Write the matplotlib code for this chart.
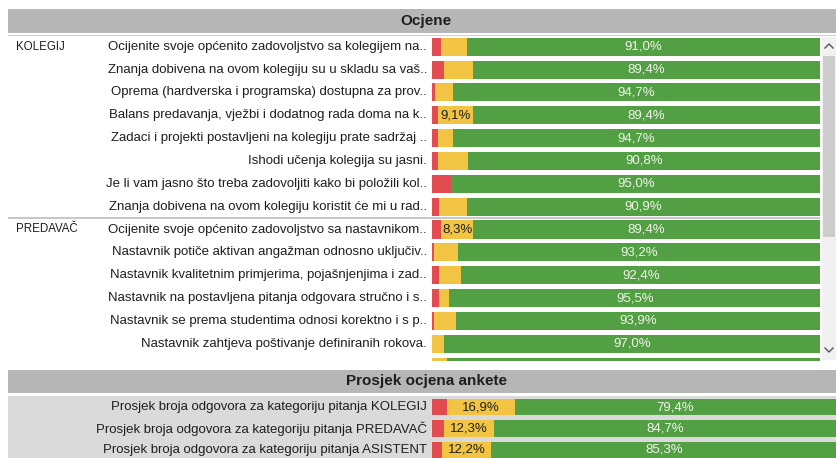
import matplotlib
matplotlib.use("Agg")
import matplotlib.pyplot as plt
from matplotlib.patches import Rectangle
from matplotlib.lines import Line2D
import numpy as np

plt.rcParams['font.family'] = ['Liberation Sans', 'DejaVu Sans']

# ---------------- data ----------------
title_top = "Ocjene"
title_bottom = "Prosjek ocjena ankete"

groups = ["KOLEGIJ", "PREDAVAČ"]
group_start = [0, 8]

questions = [
    "Ocijenite svoje općenito zadovoljstvo sa kolegijem na..",
    "Znanja dobivena na ovom kolegiju su u skladu sa vaš..",
    "Oprema (hardverska i programska) dostupna za prov..",
    "Balans predavanja, vježbi i dodatnog rada doma na k..",
    "Zadaci i projekti postavljeni na kolegiju prate sadržaj ..",
    "Ishodi učenja kolegija su jasni.",
    "Je li vam jasno što treba zadovoljiti kako bi položili kol..",
    "Znanja dobivena na ovom kolegiju koristit će mi u rad..",
    "Ocijenite svoje općenito zadovoljstvo sa nastavnikom..",
    "Nastavnik potiče aktivan angažman odnosno uključiv..",
    "Nastavnik kvalitetnim primjerima, pojašnjenjima i zad..",
    "Nastavnik na postavljena pitanja odgovara stručno i s..",
    "Nastavnik se prema studentima odnosi korektno i s p..",
    "Nastavnik zahtjeva poštivanje definiranih rokova.",
    "Nastavnik je dostupan za konzultacije i održava ih u..",
]
red    = [2.3, 3.2, 0.8, 1.5, 1.5, 1.6, 5.0, 1.7, 2.3, 0.6, 1.7, 1.7, 0.6, 0.0, 0.0]
yellow = [6.7, 7.4, 4.5, 9.1, 3.8, 7.6, 0.0, 7.4, 8.3, 6.2, 5.9, 2.8, 5.5, 3.0, 3.8]
green  = [91.0, 89.4, 94.7, 89.4, 94.7, 90.8, 95.0, 90.9, 89.4, 93.2, 92.4, 95.5, 93.9, 97.0, 96.2]

avg_labels = [
    "Prosjek broja odgovora za kategoriju pitanja KOLEGIJ",
    "Prosjek broja odgovora za kategoriju pitanja PREDAVAČ",
    "Prosjek broja odgovora za kategoriju pitanja ASISTENT",
]
avg_red    = [3.7, 3.0, 2.5]
avg_yellow = [16.9, 12.3, 12.2]
avg_green  = [79.4, 84.7, 85.3]

# ---------------- style ----------------
C_RED = '#e24b4f'
C_YEL = '#f1c443'
C_GRN = '#53a044'
C_TXT = '#1e1e1e'
C_HDR = '#b6b6b6'

W, H = 836, 458
fig = plt.figure(figsize=(W / 100, H / 100), dpi=100)
fig.patch.set_facecolor('white')


def rect(x0, y0, x1, y1):
    return [x0 / W, 1 - y1 / H, (x1 - x0) / W, (y1 - y0) / H]


def fig_rect(x0, y0, x1, y1, color, z=0):
    r = rect(x0, y0, x1, y1)
    fig.add_artist(Rectangle((r[0], r[1]), r[2], r[3], transform=fig.transFigure,
                             facecolor=color, edgecolor='none', zorder=z))


def fmt(v):
    return f"{v:.1f}%".replace('.', ',')


# headers and backgrounds
fig_rect(8, 9, 836, 32.5, C_HDR)
fig_rect(8, 34.5, 836, 35.5, '#cfcfcf')
fig.text(426 / W, 1 - 21 / H, title_top, ha='center', va='center',
         fontsize=11, fontweight='bold', color=C_TXT)

fig_rect(8, 369.5, 836, 393, C_HDR)
fig_rect(8, 395.5, 836, 458, '#dadada')
fig.text(426 / W, 1 - 381 / H, title_bottom, ha='center', va='center',
         fontsize=11, fontweight='bold', color=C_TXT)

# scrollbar
fig_rect(822, 37, 836, 360, '#f1f1f1')
fig_rect(823, 56, 835, 237, '#cdcdcd')
for (ya, yb) in [(48, 44), (348, 352)]:
    fig.add_artist(Line2D([825 / W, 829 / W, 833 / W],
                          [1 - ya / H, 1 - yb / H, 1 - ya / H],
                          transform=fig.transFigure, color='#555555', lw=1.0))

LBL_SIZE = 9.5
PCT_SIZE = 9.5


def stacked(ax, labels, r, y, g, label_x):
    idx = np.arange(len(labels))
    h = 0.79
    r = np.array(r); y = np.array(y); g = np.array(g)
    ax.barh(idx, r, height=h, color=C_RED, linewidth=0)
    ax.barh(idx, y, left=r, height=h, color=C_YEL, linewidth=0)
    ax.barh(idx, g, left=r + y, height=h, color=C_GRN, linewidth=0)
    for i, lab in enumerate(labels):
        ax.text(label_x, i, lab, ha='right', va='center', fontsize=LBL_SIZE,
                color=C_TXT, clip_on=True)
        ax.text(r[i] + y[i] + g[i] / 2, i, fmt(g[i]), ha='center', va='center',
                fontsize=PCT_SIZE, color='#f0f6ea', clip_on=True)
        if y[i] >= 8:
            ax.text(r[i] + y[i] / 2, i, fmt(y[i]), ha='center', va='center',
                    fontsize=PCT_SIZE, color=C_TXT, clip_on=True)


# top section axes
x_bar0, x_bar1 = 432, 820
ppu = (x_bar1 - x_bar0) / 100
c0, pitch = 46.7, 22.85
T, B = 35.5, 361.0
ax = fig.add_axes(rect(8, T, x_bar1, B))
ax.set_xlim(-(x_bar0 - 8) / ppu, 100)
ax.set_ylim((B - c0) / pitch, (T - c0) / pitch)
ax.axis('off')
stacked(ax, questions, red, yellow, green, (427 - x_bar0) / ppu)
for g, s in zip(groups, group_start):
    ax.text((16 - x_bar0) / ppu, s, g, ha='left', va='center', fontsize=8.3,
            color=C_TXT, clip_on=True)
ax.axhline(7.5, color='#bdbdbd', lw=1.2)

# bottom section axes
xb0, xb1 = 432, 836
ppu2 = (xb1 - xb0) / 100
c0b, pitchb = 407, 21.5
Tb, Bb = 396, 458
ax2 = fig.add_axes(rect(8, Tb, xb1, Bb))
ax2.set_xlim(-(xb0 - 8) / ppu2, 100)
ax2.set_ylim((Bb - c0b) / pitchb, (Tb - c0b) / pitchb)
ax2.axis('off')
stacked(ax2, avg_labels, avg_red, avg_yellow, avg_green, (427 - xb0) / ppu2)

fig.savefig('out.png', dpi=100, facecolor='white')
